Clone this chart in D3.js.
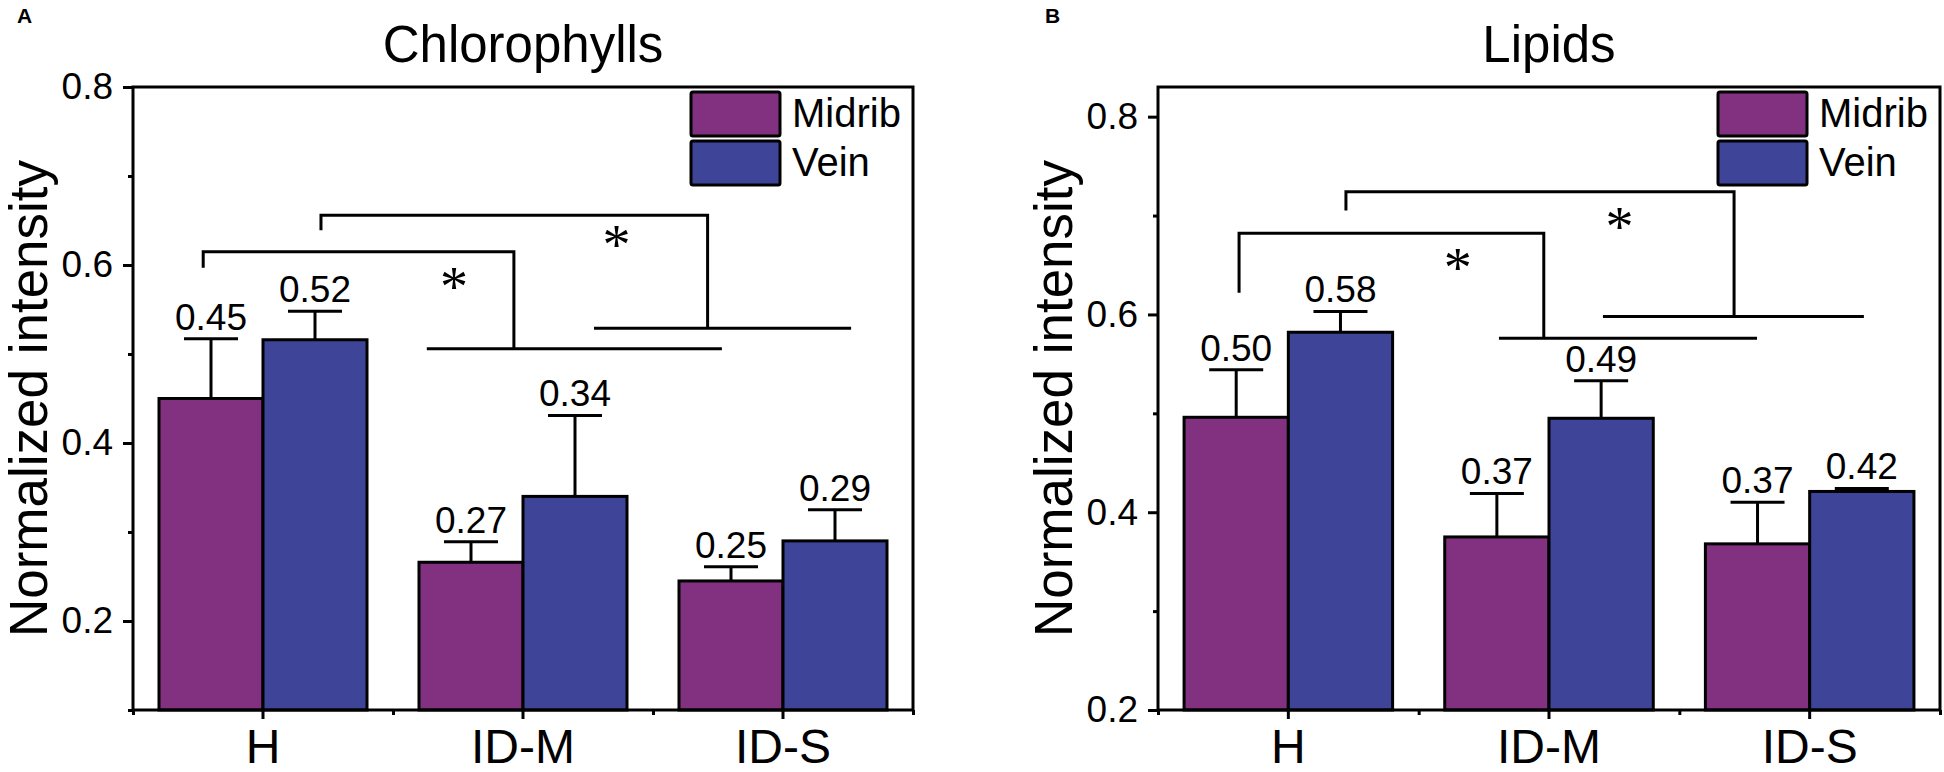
<!doctype html>
<html>
<head>
<meta charset="UTF-8">
<title>Chlorophylls and Lipids</title>
<style>
  body { margin: 0; background: #fff; }
  svg text { font-family: "Liberation Sans", Arial, sans-serif; fill: #000; }
</style>
</head>
<body>
<div id="chart"></div>
<script src="https://cdn.jsdelivr.net/npm/d3@7"></script>
<script>
// data
var groups = ["H", "ID-M", "ID-S"];
var seriesNames = ["Midrib", "Vein"];
var seriesColors = ["#823180", "#3e4599"];

var chloroMidrib = [0.450, 0.266, 0.245];
var chloroMidribErr = [0.067, 0.023, 0.016];
var chloroMidribLabels = ["0.45", "0.27", "0.25"];
var chloroVein = [0.516, 0.340, 0.290];
var chloroVeinErr = [0.032, 0.091, 0.035];
var chloroVeinLabels = ["0.52", "0.34", "0.29"];

var lipidMidrib = [0.496, 0.375, 0.368];
var lipidMidribErr = [0.048, 0.044, 0.042];
var lipidMidribLabels = ["0.50", "0.37", "0.37"];
var lipidVein = [0.582, 0.495, 0.421];
var lipidVeinErr = [0.021, 0.038, 0.003];
var lipidVeinLabels = ["0.58", "0.49", "0.42"];

// significance brackets, x in group units (0..3), y in data units
var chloroBrackets = [
  {left: 0.27, leftEnd: 0.597, top: 0.615, right: 1.465, base: 0.506, baseFrom: 1.13, baseTo: 2.265, starX: 1.235, starY: 0.584},
  {left: 0.723, leftEnd: 0.639, top: 0.656, right: 2.21, base: 0.529, baseFrom: 1.773, baseTo: 2.762, starX: 1.86, starY: 0.631}
];
var lipidBrackets = [
  {left: 0.311, leftEnd: 0.622, top: 0.682, right: 1.48, base: 0.576, baseFrom: 1.308, baseTo: 2.298, starX: 1.15, starY: 0.655},
  {left: 0.721, leftEnd: 0.705, top: 0.724, right: 2.21, base: 0.598, baseFrom: 1.707, baseTo: 2.708, starX: 1.77, starY: 0.697}
];

var chloroMajor = [0.2, 0.4, 0.6, 0.8];
var chloroMinor = [0.1, 0.3, 0.5, 0.7];
var lipidMajor = [0.2, 0.4, 0.6, 0.8];
var lipidMinor = [0.3, 0.5, 0.7];

var svg = d3.select("#chart").append("svg")
  .attr("width", 1944)
  .attr("height", 772);

function drawPanel(p) {
  var x = d3.scaleBand().domain(groups).range([p.left, p.right]).padding(0);
  var xu = d3.scaleLinear().domain([0, 3]).range([p.left, p.right]);
  var y = d3.scaleLinear().domain(p.yDomain).range([710, 87]);
  var bw = x.bandwidth();
  var g = svg.append("g");

  // panel letter + title
  g.append("text").attr("x", p.letterX).attr("y", 23)
    .style("font-size", "21px").style("font-weight", "bold").text(p.letter);
  g.append("text").attr("x", (p.left + p.right) / 2).attr("y", 62)
    .attr("text-anchor", "middle").style("font-size", "51px").text(p.title);

  // bars
  var series = [
    {vals: p.midrib, err: p.midribErr, labels: p.midribLabels, off: 0.1, color: seriesColors[0]},
    {vals: p.vein, err: p.veinErr, labels: p.veinLabels, off: 0.5, color: seriesColors[1]}
  ];
  series.forEach(function(s) {
    var rows = groups.map(function(k, i) { return {k: k, v: s.vals[i], e: s.err[i], l: s.labels[i]}; });
    g.selectAll(null).data(rows).join("rect")
      .attr("x", function(d) { return x(d.k) + bw * s.off; })
      .attr("y", function(d) { return y(d.v); })
      .attr("width", bw * 0.4)
      .attr("height", function(d) { return y(p.yDomain[0]) - y(d.v); })
      .attr("fill", s.color)
      .attr("stroke", "#000")
      .attr("stroke-width", 3);
    // error bars
    g.selectAll(null).data(rows).join("line")
      .attr("x1", function(d) { return x(d.k) + bw * (s.off + 0.2); })
      .attr("x2", function(d) { return x(d.k) + bw * (s.off + 0.2); })
      .attr("y1", function(d) { return y(d.v); })
      .attr("y2", function(d) { return y(d.v + d.e); })
      .attr("stroke", "#000").attr("stroke-width", 3);
    g.selectAll(null).data(rows).join("line")
      .attr("x1", function(d) { return x(d.k) + bw * (s.off + 0.2) - 27; })
      .attr("x2", function(d) { return x(d.k) + bw * (s.off + 0.2) + 27; })
      .attr("y1", function(d) { return y(d.v + d.e); })
      .attr("y2", function(d) { return y(d.v + d.e); })
      .attr("stroke", "#000").attr("stroke-width", 3);
    g.selectAll(null).data(rows).join("text")
      .attr("x", function(d) { return x(d.k) + bw * (s.off + 0.2); })
      .attr("y", function(d) { return y(d.v + d.e) - 9; })
      .attr("text-anchor", "middle")
      .style("font-size", "37px")
      .text(function(d) { return d.l; });
  });

  // significance brackets
  p.brackets.forEach(function(b) {
    var path = d3.path();
    path.moveTo(xu(b.left), y(b.leftEnd));
    path.lineTo(xu(b.left), y(b.top));
    path.lineTo(xu(b.right), y(b.top));
    path.lineTo(xu(b.right), y(b.base));
    path.moveTo(xu(b.baseFrom), y(b.base));
    path.lineTo(xu(b.baseTo), y(b.base));
    g.append("path").attr("d", path.toString())
      .attr("fill", "none").attr("stroke", "#000").attr("stroke-width", 3);
    g.append("text").attr("x", xu(b.starX)).attr("y", y(b.starY) + 27)
      .attr("text-anchor", "middle")
      .style("font-family", "'Liberation Serif', serif")
      .style("font-size", "56px").text("*");
  });

  // frame
  g.append("rect").attr("x", p.left).attr("y", 87)
    .attr("width", p.right - p.left).attr("height", 710 - 87)
    .attr("fill", "none").attr("stroke", "#000").attr("stroke-width", 3);

  // y axis
  var ya = g.append("g").attr("transform", "translate(" + p.left + ",0)")
    .call(d3.axisLeft(y).tickValues(p.major).tickSize(10).tickPadding(10).tickFormat(d3.format(".1f")));
  ya.select(".domain").remove();
  ya.selectAll("line").attr("stroke-width", 3);
  ya.selectAll("text").style("font-size", "37px").attr("font-family", null);
  var ym = g.append("g").attr("transform", "translate(" + p.left + ",0)")
    .call(d3.axisLeft(y).tickValues(p.minor).tickSize(5).tickFormat(""));
  ym.select(".domain").remove();
  ym.selectAll("line").attr("stroke-width", 3);

  // x axis
  var xa = g.append("g").attr("transform", "translate(0,710)")
    .call(d3.axisBottom(x).tickSize(9));
  xa.select(".domain").remove();
  xa.selectAll("line").attr("stroke-width", 3);
  xa.selectAll("text").attr("dy", null).attr("y", 53).style("font-size", "48px").attr("font-family", null);
  var xm = g.append("g").attr("transform", "translate(0,710)")
    .call(d3.axisBottom(xu).tickValues([0, 1, 2, 3]).tickSize(5).tickFormat(""));
  xm.select(".domain").remove();
  xm.selectAll("line").attr("stroke-width", 3);

  // y title
  g.append("text")
    .attr("transform", "translate(" + (p.left - 86) + "," + ((87 + 710) / 2) + ") rotate(-90)")
    .attr("text-anchor", "middle").style("font-size", "53px")
    .text("Normalized intensity");

  // legend
  seriesNames.forEach(function(name, i) {
    var ly = 92 + i * 49;
    g.append("rect").attr("x", p.right - 222).attr("y", ly)
      .attr("width", 89).attr("height", 44).attr("rx", 2)
      .attr("fill", seriesColors[i]).attr("stroke", "#000").attr("stroke-width", 3);
    g.append("text").attr("x", p.right - 121).attr("y", ly + 35)
      .style("font-size", "40px").text(name);
  });
}

drawPanel({
  letter: "A", letterX: 17, title: "Chlorophylls",
  left: 133, right: 913, yDomain: [0.1, 0.8],
  major: chloroMajor, minor: chloroMinor,
  midrib: chloroMidrib, midribErr: chloroMidribErr, midribLabels: chloroMidribLabels,
  vein: chloroVein, veinErr: chloroVeinErr, veinLabels: chloroVeinLabels,
  brackets: chloroBrackets
});

drawPanel({
  letter: "B", letterX: 1045, title: "Lipids",
  left: 1158, right: 1940, yDomain: [0.2, 0.83],
  major: lipidMajor, minor: lipidMinor,
  midrib: lipidMidrib, midribErr: lipidMidribErr, midribLabels: lipidMidribLabels,
  vein: lipidVein, veinErr: lipidVeinErr, veinLabels: lipidVeinLabels,
  brackets: lipidBrackets
});
</script>
</body>
</html>
